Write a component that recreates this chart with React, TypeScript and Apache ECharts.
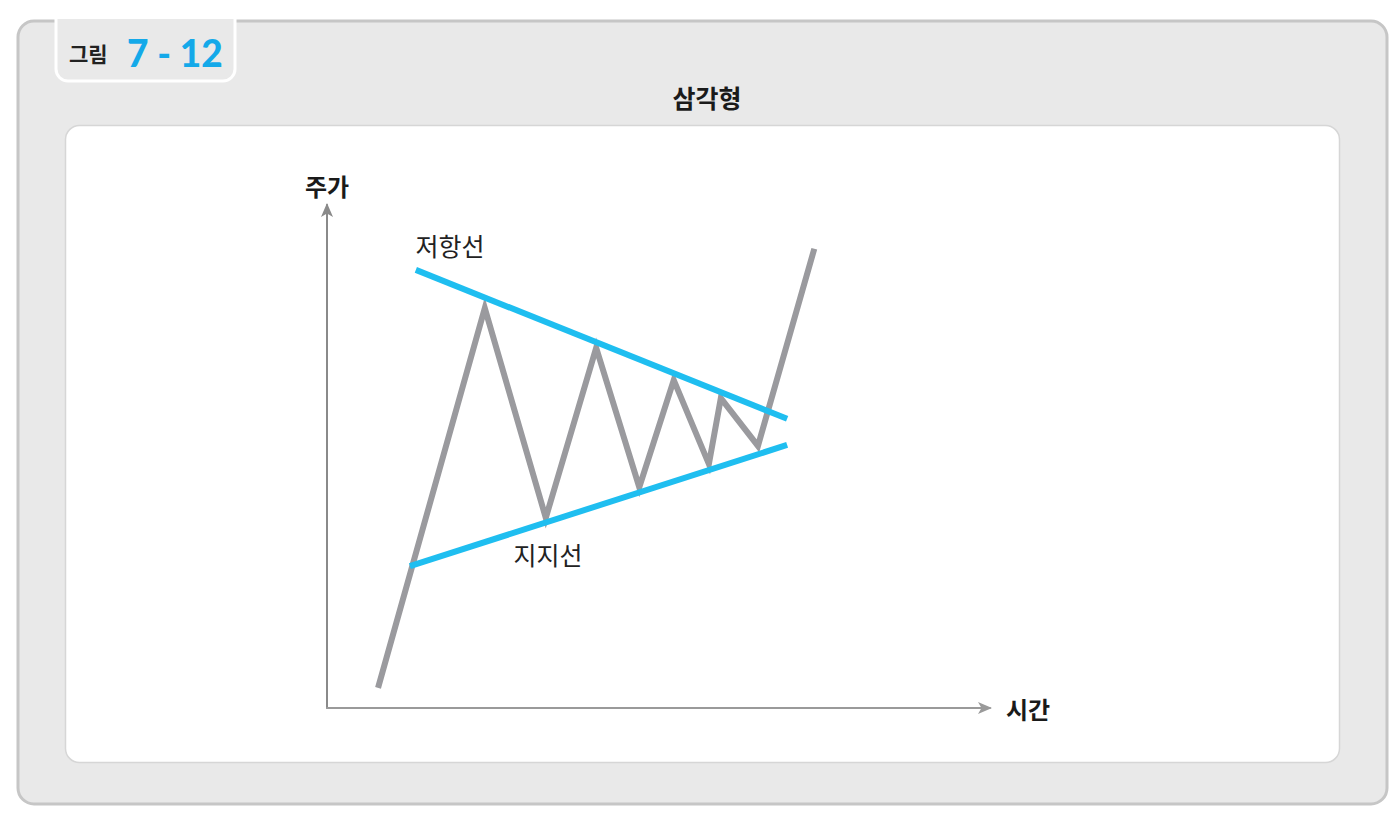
import React, { useEffect, useRef } from "react";
import * as echarts from "echarts";

// price path (x: time units 0-100, y: price units 0-100)
const priceX = [7.7, 23.8, 33.0, 40.6, 47.1, 52.3, 57.6, 59.4, 65.0, 73.5];
const priceY = [4.0, 79.5, 37.8, 71.6, 43.9, 65.2, 48.5, 61.6, 52.1, 91.3];
const resistanceX = [13.4, 69.4];
const resistanceY = [87.1, 57.5];
const supportX = [12.5, 69.4];
const supportY = [28.2, 52.3];

const title = "삼각형";
const figLabel = "그림";
const figNumber = "7 - 12";
const yName = "주가";
const xName = "시간";
const resistanceLabel = "저항선";
const supportLabel = "지지선";

const FONT = "'Noto Sans CJK KR', 'Noto Sans', sans-serif";

export default function App() {
  const ref = useRef<HTMLDivElement>(null);
  useEffect(() => {
    if (!ref.current) return;
    const chart = echarts.init(ref.current, undefined, { renderer: "svg" });
    const zip = (xs: number[], ys: number[]) => xs.map((x, i) => [x, ys[i]]);
    chart.setOption({
      animation: false,
      backgroundColor: "#ffffff",
      textStyle: { fontFamily: FONT },
      grid: { left: 327, top: 205, width: 663, height: 503 },
      xAxis: {
        type: "value",
        min: 0,
        max: 100,
        name: xName,
        nameLocation: "end",
        nameGap: 16,
        nameTextStyle: { fontFamily: FONT, fontSize: 24, fontWeight: "bold", color: "#1a1a1a", verticalAlign: "middle" },
        axisLine: { show: true, symbol: ["none", "arrow"], symbolSize: [9, 14], symbolOffset: [0, 2], lineStyle: { color: "#9a9a9a", width: 2 } },
        axisTick: { show: false },
        axisLabel: { show: false },
        splitLine: { show: false },
      },
      yAxis: {
        type: "value",
        min: 0,
        max: 100,
        name: yName,
        nameLocation: "end",
        nameGap: 8,
        nameTextStyle: { fontFamily: FONT, fontSize: 24, fontWeight: "bold", color: "#1a1a1a", align: "center" },
        axisLine: { show: true, symbol: ["none", "arrow"], symbolSize: [9, 14], symbolOffset: [0, 2], lineStyle: { color: "#8a8a8a", width: 2 } },
        axisTick: { show: false },
        axisLabel: { show: false },
        splitLine: { show: false },
      },
      graphic: [
        {
          type: "rect",
          z: -10,
          shape: { x: 18, y: 21, width: 1369, height: 783, r: 16 },
          style: { fill: "#e9e9e9", stroke: "#c6c6c6", lineWidth: 3 },
        },
        {
          type: "rect",
          z: -9,
          shape: { x: 56, y: 16, width: 179, height: 65, r: [0, 0, 12, 12] },
          style: { fill: "#e9e9e9", stroke: "#ffffff", lineWidth: 3 },
        },
        {
          type: "rect",
          z: -9,
          shape: { x: 54, y: 8, width: 183, height: 11 },
          style: { fill: "#ffffff" },
        },
        {
          type: "text",
          z: -8,
          x: 69,
          y: 53,
          style: { text: figLabel, font: `bold 21px ${FONT}`, fill: "#222222", verticalAlign: "middle" },
        },
        {
          type: "text",
          z: -8,
          x: 127,
          y: 52,
          style: { text: figNumber, font: `900 37px Lato, ${FONT}`, fill: "#14a9e9", verticalAlign: "middle" },
        },
        {
          type: "text",
          z: -8,
          x: 707,
          y: 97,
          style: { text: title, font: `bold 25px ${FONT}`, fill: "#1a1a1a", align: "center", verticalAlign: "middle" },
        },
        {
          type: "rect",
          z: -9,
          shape: { x: 65.5, y: 125.5, width: 1274, height: 637, r: 14 },
          style: { fill: "#ffffff", stroke: "#d6d6d6", lineWidth: 1.5 },
        },
        {
          type: "text",
          z: 10,
          x: 450,
          y: 245,
          style: { text: resistanceLabel, font: `25px ${FONT}`, fill: "#222222", align: "center", verticalAlign: "middle" },
        },
        {
          type: "text",
          z: 10,
          x: 548,
          y: 554,
          style: { text: supportLabel, font: `25px ${FONT}`, fill: "#222222", align: "center", verticalAlign: "middle" },
        },
      ],
      series: [
        {
          type: "line",
          data: zip(priceX, priceY),
          symbol: "none",
          z: 2,
          lineStyle: { color: "#9a9a9e", width: 6, join: "miter" },
        },
        {
          type: "line",
          data: zip(resistanceX, resistanceY),
          symbol: "none",
          z: 3,
          lineStyle: { color: "#1fbef0", width: 6, cap: "butt" },
        },
        {
          type: "line",
          data: zip(supportX, supportY),
          symbol: "none",
          z: 3,
          lineStyle: { color: "#1fbef0", width: 6, cap: "butt" },
        },
      ],
    });
    return () => chart.dispose();
  }, []);
  return (
    <div
      ref={ref}
      style={{ position: "fixed", left: 0, top: 0, width: 1393, height: 814 }}
    />
  );
}
